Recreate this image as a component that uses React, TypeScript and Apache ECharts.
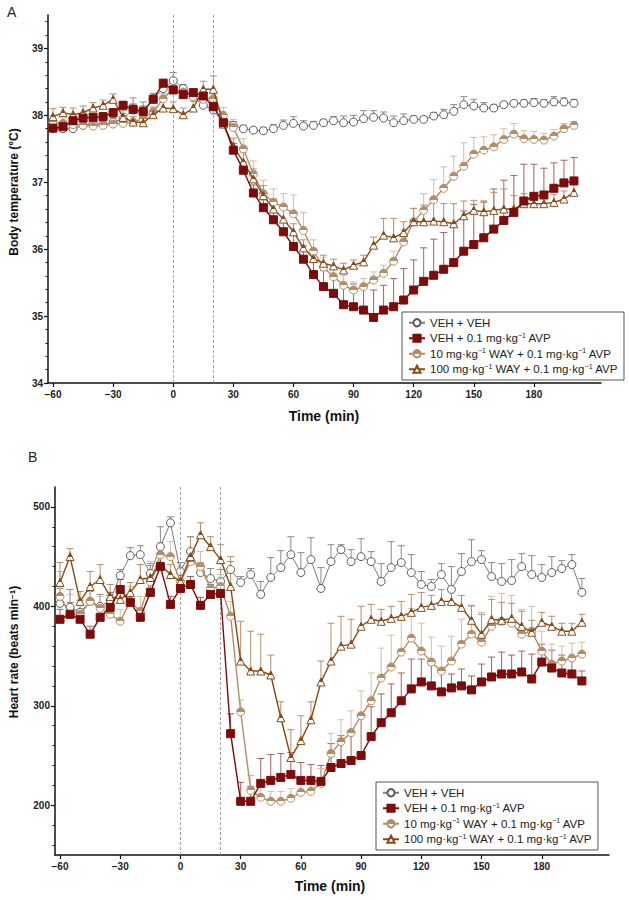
import React, { useEffect, useRef } from 'react';
import * as echarts from 'echarts';

const times = [-60,-55,-50,-45,-40,-35,-30,-25,-20,-15,-10,-5,0,5,10,15,20,25,30,35,40,45,50,55,60,65,70,75,80,85,90,95,100,105,110,115,120,125,130,135,140,145,150,155,160,165,170,175,180,185,190,195,200];

const groupNames = ['VEH + VEH', 'VEH + 0.1 mg·kg⁻¹ AVP', '10 mg·kg⁻¹ WAY + 0.1 mg·kg⁻¹ AVP', '100 mg·kg⁻¹ WAY + 0.1 mg·kg⁻¹ AVP'];

// Panel A: body temperature (°C)
const tempVehVeh = [37.80,37.80,37.80,37.85,37.88,37.86,37.90,37.95,38.08,38.05,38.25,38.40,38.52,38.40,38.28,38.15,38.08,37.88,37.85,37.80,37.78,37.77,37.80,37.85,37.88,37.84,37.85,37.89,37.92,37.89,37.90,37.95,37.97,37.96,37.89,37.92,37.94,37.94,37.99,38.01,38.06,38.16,38.14,38.11,38.11,38.16,38.18,38.18,38.19,38.18,38.20,38.20,38.18];
const tempVehVehErr = [0.08,0.06,0.05,0.06,0.05,0.06,0.07,0.08,0.18,0.15,0.08,0.08,0.12,0.06,0.06,0.08,0.07,0.05,0.06,0.05,0.04,0.05,0.06,0.08,0.1,0.08,0.06,0.05,0.06,0.1,0.1,0.12,0.1,0.09,0.1,0.1,0.05,0.04,0.05,0.08,0.1,0.12,0.1,0.08,0.05,0.04,0.04,0.05,0.06,0.05,0.08,0.06,0.06];
const tempAvp = [37.81,37.83,37.92,37.96,37.97,37.98,38.04,38.15,38.09,38.06,38.24,38.48,38.38,38.31,38.34,38.29,38.13,37.89,37.48,37.18,36.84,36.62,36.44,36.26,36.04,35.85,35.62,35.44,35.34,35.17,35.14,35.09,34.98,35.09,35.14,35.24,35.39,35.52,35.61,35.70,35.80,35.97,36.07,36.17,36.30,36.43,36.55,36.72,36.79,36.81,36.91,36.99,37.02];
const tempAvpErr = [0.05,0.05,0.06,0.06,0.05,0.06,0.06,0.06,0.08,0.08,0.06,0.06,0.06,0.05,0.05,0.06,0.06,0.08,0.1,0.12,0.12,0.12,0.14,0.16,0.18,0.2,0.22,0.24,0.26,0.3,0.34,0.38,0.41,0.37,0.42,0.47,0.45,0.5,0.54,0.55,0.58,0.6,0.6,0.55,0.6,0.6,0.55,0.55,0.48,0.4,0.38,0.34,0.35];
const tempWay10 = [37.90,37.88,37.86,37.85,37.84,37.85,37.87,37.88,37.90,37.95,38.05,38.25,38.40,38.35,38.28,38.24,38.25,38.00,37.82,37.50,37.12,36.83,36.70,36.63,36.53,36.28,35.97,35.73,35.59,35.46,35.39,35.44,35.54,35.64,35.82,36.11,36.41,36.58,36.74,36.91,37.09,37.24,37.42,37.48,37.53,37.64,37.72,37.65,37.64,37.63,37.69,37.80,37.85];
const tempWay10Err = [0.1,0.08,0.08,0.08,0.08,0.08,0.08,0.08,0.08,0.08,0.08,0.08,0.1,0.08,0.1,0.1,0.1,0.12,0.12,0.15,0.2,0.2,0.2,0.2,0.28,0.27,0.17,0.15,0.15,0.15,0.12,0.12,0.12,0.12,0.15,0.18,0.2,0.25,0.3,0.32,0.3,0.35,0.25,0.2,0.18,0.16,0.16,0.12,0.12,0.1,0.1,0.08,0.06];
const tempWay100 = [37.98,38.04,38.01,38.04,38.11,38.15,38.24,37.97,37.90,37.89,38.01,38.11,38.10,38.01,38.11,38.39,38.39,37.87,37.54,37.30,37.05,36.80,36.60,36.45,36.26,36.02,35.86,35.79,35.75,35.69,35.76,35.81,36.06,36.21,36.17,36.25,36.41,36.41,36.42,36.41,36.38,36.50,36.58,36.56,36.58,36.60,36.60,36.68,36.68,36.68,36.70,36.75,36.85];
const tempWay100Err = [0.12,0.08,0.1,0.1,0.08,0.08,0.08,0.1,0.08,0.08,0.1,0.1,0.1,0.1,0.1,0.12,0.2,0.1,0.12,0.15,0.15,0.15,0.15,0.15,0.12,0.12,0.1,0.12,0.1,0.1,0.08,0.1,0.12,0.25,0.29,0.16,0.2,0.25,0.31,0.27,0.3,0.22,0.15,0.14,0.27,0.3,0.2,0.15,0.15,0.12,0.12,0.12,0.12];

// Panel B: heart rate (beats min-1)
const hrVehVeh = [403,399,394,405,400,406,431,451,452,433,460,484,435,455,434,428,425,437,424,432,412,429,439,452,434,447,418,445,457,445,450,445,425,439,444,434,422,420,432,417,435,445,447,430,425,426,440,432,429,434,438,442,414];
const hrVehVehErr = [15,18,12,10,12,8,6,8,9,10,20,6,9,15,10,10,12,8,6,6,13,20,17,18,20,22,21,17,5,12,18,10,18,26,17,18,13,7,11,23,18,22,9,14,18,21,13,19,13,16,8,10,14];
const hrAvp = [387,392,387,372,389,399,417,404,389,414,440,402,418,422,401,412,413,272,204,204,222,225,228,231,225,225,224,238,242,245,250,269,283,293,305,317,324,320,314,318,320,316,324,329,332,332,334,327,344,338,333,332,325];
const hrAvpErr = [10,12,10,8,10,12,10,8,8,10,12,8,8,8,8,10,10,20,19,15,25,26,24,22,18,16,16,24,28,28,40,30,29,29,28,30,23,21,23,14,17,14,18,20,22,19,21,25,18,18,18,15,10];
const hrWay10 = [410,392,392,405,398,392,385,405,395,425,452,450,425,445,440,418,420,390,294,215,208,204,204,207,213,214,222,252,264,273,290,305,328,339,354,368,355,344,335,345,362,372,364,380,385,383,372,375,355,342,345,348,352];
const hrWay10Err = [25,20,15,12,12,15,12,15,15,20,12,15,15,12,15,12,12,15,12,15,12,10,10,10,10,12,15,20,22,22,25,28,30,32,32,30,28,25,25,25,25,28,30,30,28,28,25,25,20,20,15,15,12];
const hrWay100 = [424,450,405,420,427,410,407,414,427,429,442,432,425,450,472,460,447,420,345,335,335,331,288,248,265,286,324,345,360,362,380,387,385,388,390,394,399,401,405,405,399,386,372,387,386,388,380,374,384,380,375,375,384];
const hrWay100Err = [20,8,10,15,15,12,8,10,15,12,12,10,8,20,12,10,15,30,40,40,37,20,16,28,25,18,21,38,30,25,20,15,12,12,15,18,15,10,12,10,12,15,20,20,18,15,15,12,10,10,8,8,8];

const xTickValues = [-60, -30, 0, 30, 60, 90, 120, 150, 180];
const tempTickValues = [34, 35, 36, 37, 38, 39];
const tempMinorTicks = [34.2,34.4,34.6,34.8,35.2,35.4,35.6,35.8,36.2,36.4,36.6,36.8,37.2,37.4,37.6,37.8,38.2,38.4,38.6,38.8,39.2,39.4];
const hrTickValues = [200, 300, 400, 500];
const hrMinorTicks = [160,180,220,240,260,280,320,340,360,380,420,440,460,480];
const drugMarks = [0, 20];

const FONT = 'Liberation Sans, Arial, Helvetica, sans-serif';

const C_VEH = '#5a5a5a';
const C_AVP = '#7a0c0c';
const C_W10 = '#b28d68';
const C_W100 = '#874a18';

const half = (c: string) =>
  new echarts.graphic.LinearGradient(0, 0, 0, 1, [
    { offset: 0, color: c },
    { offset: 0.5, color: c },
    { offset: 0.5, color: '#ffffff' },
    { offset: 1, color: '#ffffff' },
  ]);

const styles = [
  { line: '#7a7a7a', lw: 1, symbol: 'circle', size: 8, fill: '#ffffff', border: C_VEH, err: '#8a8a8a', z: 3 },
  { line: C_AVP, lw: 1.4, symbol: 'rect', size: 8, fill: C_AVP, border: C_AVP, err: '#a86060', z: 6 },
  { line: C_W10, lw: 1.4, symbol: 'circle', size: 8, fill: 'HALF', border: C_W10, err: '#d4bda4', z: 4 },
  { line: C_W100, lw: 1.4, symbol: 'triangle', size: 8, fill: 'HALF', border: C_W100, err: '#b88e6a', z: 5 },
];

export default function App() {
  const ref = useRef<HTMLDivElement>(null);
  useEffect(() => {
    document.body.style.margin = '0';
    if (!ref.current) return;
    const chart = echarts.init(ref.current, undefined, { renderer: 'svg' });

    const panels = [
      { vals: [tempVehVeh, tempAvp, tempWay10, tempWay100], errs: [tempVehVehErr, tempAvpErr, tempWay10Err, tempWay100Err] },
      { vals: [hrVehVeh, hrAvp, hrWay10, hrWay100], errs: [hrVehVehErr, hrAvpErr, hrWay10Err, hrWay100Err] },
    ];

    const series: any[] = [];
    panels.forEach((p, g) => {
      p.vals.forEach((vals, k) => {
        const s = styles[k];
        series.push({
          type: 'custom',
          name: groupNames[k] + ' SEM ' + g,
          xAxisIndex: g,
          yAxisIndex: g * 2,
          z: 1,
          silent: true,
          encode: { x: 0, y: 1 },
          data: times.map((t, i) => [t, vals[i], p.errs[k][i]]),
          renderItem: (params: any, api: any) => {
            const x = api.value(0);
            const y = api.value(1);
            const e = api.value(2);
            const p0 = api.coord([x, y]);
            const p1 = api.coord([x, y + e]);
            return {
              type: 'group',
              children: [
                { type: 'line', shape: { x1: p0[0], y1: p0[1], x2: p1[0], y2: p1[1] }, style: { stroke: s.err, lineWidth: 1 } },
                { type: 'line', shape: { x1: p1[0] - 3.5, y1: p1[1], x2: p1[0] + 3.5, y2: p1[1] }, style: { stroke: s.err, lineWidth: 1 } },
              ],
            };
          },
        });
      });
      p.vals.forEach((vals, k) => {
        const s = styles[k];
        const item: any = {
          type: 'line',
          name: groupNames[k],
          xAxisIndex: g,
          yAxisIndex: g * 2,
          z: s.z,
          data: times.map((t, i) => [t, vals[i]]),
          symbol: s.symbol,
          symbolSize: s.size,
          showAllSymbol: true,
          itemStyle: { color: s.fill === 'HALF' ? half(s.border) : s.fill, borderColor: s.border, borderWidth: 1 },
          lineStyle: { color: s.line, width: s.lw },
          emphasis: { disabled: true },
        };
        if (k === 0) {
          item.markLine = {
            silent: true,
            symbol: ['none', 'none'],
            label: { show: false },
            lineStyle: { type: [3, 2], color: '#a0a0a0', width: 1 },
            data: drugMarks.map((v) => ({ xAxis: v })),
          };
        }
        series.push(item);
      });
    });

    const xAxisBase = (g: number) => ({
      type: 'value',
      gridIndex: g,
      min: -62.5,
      max: 213.5,
      splitLine: { show: false },
      axisLine: { show: true, onZero: false, lineStyle: { color: '#111', width: 1.5 } },
      axisTick: { show: true, customValues: xTickValues, length: 4, lineStyle: { color: '#111', width: 1.2 } },
      axisLabel: {
        customValues: xTickValues,
        formatter: (v: number) => (v < 0 ? '−' + Math.abs(v) : String(v)),
        fontFamily: FONT,
        fontSize: 10,
        fontWeight: 'bold',
        color: '#222',
        margin: 6,
      },
    });

    const yMain = (g: number, min: number, max: number, ticks: number[]) => ({
      type: 'value',
      gridIndex: g,
      position: 'left',
      min,
      max,
      splitLine: { show: false },
      axisLine: { show: true, onZero: false, lineStyle: { color: '#111', width: 1.5 } },
      axisTick: { show: true, customValues: ticks, length: 4, lineStyle: { color: '#111', width: 1.2 } },
      axisLabel: { customValues: ticks, fontFamily: FONT, fontSize: 10, fontWeight: 'bold', color: '#222', margin: 5 },
    });
    const yMinor = (g: number, min: number, max: number, ticks: number[]) => ({
      type: 'value',
      gridIndex: g,
      position: 'left',
      offset: 0,
      min,
      max,
      splitLine: { show: false },
      axisLine: { show: false, onZero: false },
      axisTick: { show: true, customValues: ticks, length: 2.5, lineStyle: { color: '#111', width: 1 } },
      axisLabel: { show: false },
    });

    const legendBase = (left: number, top: number) => ({
      data: groupNames,
      orient: 'vertical',
      left,
      top,
      padding: [4, 6, 4, 6],
      itemGap: 2,
      itemWidth: 16,
      itemHeight: 9,
      borderColor: '#555',
      borderWidth: 1,
      backgroundColor: '#fff',
      selectedMode: false,
      formatter: (name: string) => name.replace(/⁻¹/g, '{sup|−1}'),
      textStyle: {
        fontFamily: FONT,
        fontSize: 11.5,
        color: '#222',
        lineHeight: 13.5,
        rich: { sup: { fontFamily: FONT, fontSize: 7, color: '#222', verticalAlign: 'top', lineHeight: 6 } },
      },
    });

    const option: any = {
      animation: false,
      backgroundColor: '#ffffff',
      grid: [
        { left: 48, top: 15, width: 553, height: 368 },
        { left: 55, top: 487, width: 554, height: 368 },
      ],
      xAxis: [xAxisBase(0), xAxisBase(1)],
      yAxis: [
        yMain(0, 34, 39.5, tempTickValues),
        yMinor(0, 34, 39.5, tempMinorTicks),
        yMain(1, 150, 520, hrTickValues),
        yMinor(1, 150, 520, hrMinorTicks),
      ],
      legend: [legendBase(402, 312), legendBase(376, 782)],
      series,
      graphic: [
        { type: 'text', left: 7, top: 5, style: { text: 'A', fontFamily: FONT, fontSize: 14, fill: '#222' } },
        { type: 'text', left: 28, top: 450, style: { text: 'B', fontFamily: FONT, fontSize: 14, fill: '#222' } },
        {
          type: 'text', x: 14, y: 192, rotation: Math.PI / 2,
          style: { text: 'Body temperature (°C)', fontFamily: FONT, fontSize: 12, fontWeight: 'bold', fill: '#111', align: 'center', verticalAlign: 'middle' },
        },
        {
          type: 'text', x: 14, y: 652, rotation: Math.PI / 2,
          style: {
            text: 'Heart rate (beats min{sup|−1})', fontFamily: FONT, fontSize: 12, fontWeight: 'bold', fill: '#111', align: 'center', verticalAlign: 'middle',
            rich: { sup: { fontFamily: FONT, fontSize: 8, fontWeight: 'bold', fill: '#111', verticalAlign: 'top', lineHeight: 6 } },
          },
        },
        {
          type: 'text', x: 324, y: 416,
          style: { text: 'Time (min)', fontFamily: FONT, fontSize: 14, fontWeight: 'bold', fill: '#111', align: 'center', verticalAlign: 'middle' },
        },
        {
          type: 'text', x: 330, y: 886,
          style: { text: 'Time (min)', fontFamily: FONT, fontSize: 14, fontWeight: 'bold', fill: '#111', align: 'center', verticalAlign: 'middle' },
        },
      ],
    };

    chart.setOption(option);
    return () => chart.dispose();
  }, []);

  return <div ref={ref} style={{ width: 629, height: 900, overflow: 'hidden' }} />;
}
